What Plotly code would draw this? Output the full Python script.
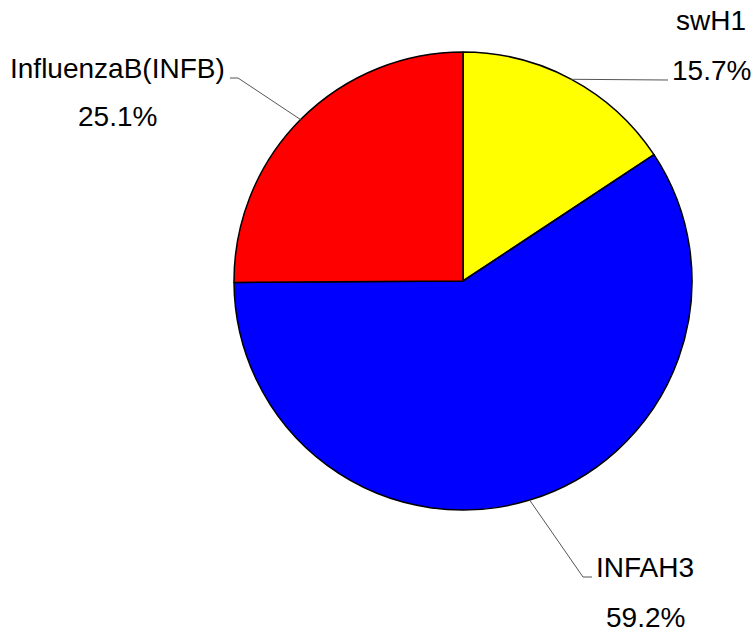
import math
import plotly.graph_objects as go

# ---- data ----
labels = ["swH1", "INFAH3", "InfluenzaB(INFB)"]
values = [15.7, 59.2, 25.1]
pct_text = ["15.7%", "59.2%", "25.1%"]
colors = ["#FFFF00", "#0000FF", "#FF0000"]

# ---- layout constants (pixels, top-left origin) ----
W, H = 754, 632
CX, CY, R = 463, 281, 229
# per label: elbow point, line end, name position, percent position
elbows = [(668, 80), (583, 577), (238, 78)]
ends = [(668, 80), (592, 577), (230, 78)]
name_pos = [(711, 21), (645, 567), (117, 68)]
pct_pos = [(711, 70), (645, 617), (117, 117)]
FONT = "Arial, Liberation Sans, sans-serif"
FS = 28


def px(x):
    return x / W


def py(y):
    return 1 - y / H


fig = go.Figure(go.Pie(
    labels=labels,
    values=values,
    sort=False,
    direction="clockwise",
    rotation=0,
    textinfo="none",
    hoverinfo="label+percent",
    marker=dict(colors=colors, line=dict(color="black", width=1.5)),
    domain=dict(x=[px(CX - R), px(CX + R)], y=[py(CY + R), py(CY - R)]),
    showlegend=False,
))

total = sum(values)
shapes = []
annotations = []
cum = 0.0
for i, v in enumerate(values):
    mid = (cum + v / 2) / total * 2 * math.pi
    cum += v
    ex = CX + R * math.sin(mid)
    ey = CY - R * math.cos(mid)
    path = "M {} {} L {} {} L {} {}".format(
        px(ex), py(ey), px(elbows[i][0]), py(elbows[i][1]),
        px(ends[i][0]), py(ends[i][1]))
    shapes.append(dict(type="path", xref="paper", yref="paper", path=path,
                       line=dict(color="#555555", width=1)))
    annotations.append(dict(x=px(name_pos[i][0]), y=py(name_pos[i][1]),
                            xref="paper", yref="paper", text=labels[i],
                            showarrow=False, xanchor="center", yanchor="middle",
                            font=dict(family=FONT, size=FS, color="black")))
    annotations.append(dict(x=px(pct_pos[i][0]), y=py(pct_pos[i][1]),
                            xref="paper", yref="paper", text=pct_text[i],
                            showarrow=False, xanchor="center", yanchor="middle",
                            font=dict(family=FONT, size=FS, color="black")))

fig.update_layout(
    width=W, height=H,
    margin=dict(l=0, r=0, t=0, b=0),
    paper_bgcolor="white",
    plot_bgcolor="white",
    shapes=shapes,
    annotations=annotations,
)

fig.write_html(
    "out.html",
    config={"displayModeBar": False},
    post_script="document.body.style.margin='0';document.body.style.overflow='hidden';",
)
